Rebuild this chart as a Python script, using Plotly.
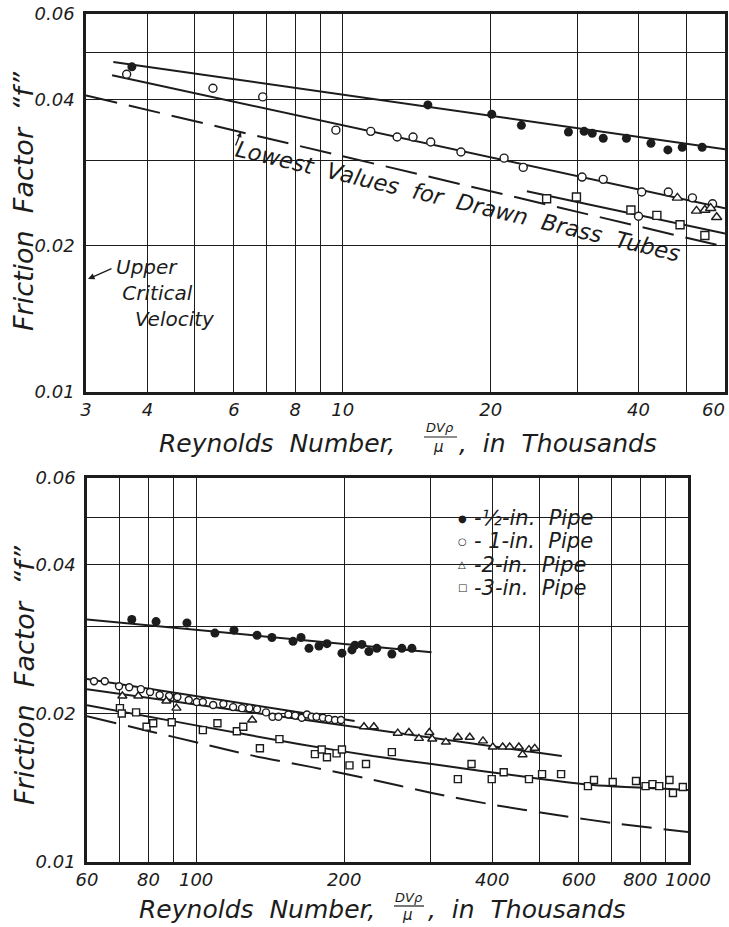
import numpy as np
import plotly.graph_objects as go

# ---------------- DATA ----------------
# Top chart (Reynolds number 3 - 60 thousand)
top_filled_x = [3.72, 14.9, 20.1, 23.1, 28.8, 31.0, 32.2, 33.9, 37.8, 42.4, 45.9, 49.1, 53.9]
top_filled_y = [0.0467, 0.0390, 0.0373, 0.0354, 0.0343, 0.0344, 0.0341, 0.0333, 0.0333, 0.0325, 0.0315, 0.0319, 0.0319]
top_open_x = [3.63, 5.44, 6.87, 9.68, 11.4, 12.9, 13.9, 15.1, 17.4, 21.3, 23.3, 30.7, 33.9, 40.0, 40.6, 46.0, 51.5, 56.6]
top_open_y = [0.0451, 0.0422, 0.0405, 0.0346, 0.0344, 0.0335, 0.0335, 0.0327, 0.0312, 0.0303, 0.0290, 0.0277, 0.0274, 0.0230, 0.0258, 0.0258, 0.0251, 0.0244]
top_tri_x = [48.0, 52.5, 54.6, 56.1, 57.7]
top_tri_y = [0.0251, 0.0236, 0.0237, 0.0239, 0.0229]
top_sq_x = [26.0, 29.9, 38.6, 43.6, 48.6, 54.6]
top_sq_y = [0.0250, 0.0252, 0.0237, 0.0231, 0.0221, 0.0210]

top_line_filled_x = [3.41, 60]
top_line_filled_y = [0.0478, 0.0316]
top_line_open_x = [3.39, 60]
top_line_open_y = [0.0449, 0.0239]
top_line_short_x = [23.7, 60]
top_line_short_y = [0.0259, 0.0212]
top_dashed_x = [3, 60]
top_dashed_y = [0.0408, 0.0199]

# Bottom chart (Reynolds number 60 - 1000 thousand)
bot_filled_x = [74.0, 82.9, 95.8, 109.2, 119.4, 133, 142.6, 157.4, 163.4, 169.6, 177.7, 184.5, 197.9, 207.4, 210.3, 217.3, 224.5, 233, 250, 262, 274.6]
bot_filled_y = [0.0310, 0.0307, 0.0305, 0.0291, 0.0295, 0.0288, 0.0285, 0.0280, 0.0285, 0.0271, 0.0274, 0.0277, 0.0265, 0.0269, 0.0275, 0.0276, 0.0267, 0.0271, 0.0264, 0.0271, 0.0271]
bot_open_x = [62.0, 65.2, 69.7, 73.1, 77.2, 80.6, 84.3, 88.1, 91.6, 96.6, 100.3, 103.2, 108.3, 113.6, 118.9, 124, 128.3, 133.0, 138.7, 143, 147, 154, 159, 164, 168, 171.8, 175.7, 181, 186, 191.6, 197]
bot_open_y = [0.02325, 0.02325, 0.0227, 0.0226, 0.0224, 0.0221, 0.0218, 0.0217, 0.0216, 0.0213, 0.0211, 0.0211, 0.0208, 0.0209, 0.0206, 0.0205, 0.0205, 0.0204, 0.0201, 0.0197, 0.0197, 0.0199, 0.0198, 0.0196, 0.0199, 0.0197, 0.0197, 0.0196, 0.0195, 0.0194, 0.0194]
bot_tri_x = [70.8, 76.3, 87.0, 91.2, 130.0, 219.4, 229.8, 257, 270.8, 283.8, 298, 302, 322, 340.5, 360, 383, 401, 420, 434, 453, 461, 475, 488]
bot_tri_y = [0.0217, 0.0217, 0.0212, 0.0205, 0.0194, 0.0188, 0.0188, 0.01824, 0.0183, 0.0178, 0.0183, 0.01775, 0.0175, 0.0179, 0.0179, 0.0176, 0.0171, 0.0171, 0.0171, 0.0171, 0.0165, 0.0169, 0.0170]
bot_sq_x = [70.0, 70.6, 75.5, 79.3, 81.8, 89.2, 103.2, 110.5, 121.0, 124.7, 134.8, 147.7, 174.4, 180.0, 184.5, 193.0, 197.9, 205.0, 221.5, 250, 340.5, 363, 399, 422, 475, 505, 552, 626, 644, 703, 784, 820, 847, 874, 917, 932, 976, 1005]
bot_sq_y = [0.0205, 0.0200, 0.0201, 0.0188, 0.0191, 0.0192, 0.0185, 0.0191, 0.0184, 0.0188, 0.0170, 0.01774, 0.01654, 0.0169, 0.0163, 0.0166, 0.0169, 0.0157, 0.0158, 0.0167, 0.01472, 0.0158, 0.01472, 0.0152, 0.01472, 0.01507, 0.01507, 0.01425, 0.01466, 0.01452, 0.01459, 0.01425, 0.01438, 0.01425, 0.01466, 0.01380, 0.01419, 0.01419]

bot_line_filled_x = [60, 301]
bot_line_filled_y = [0.0310, 0.0266]
bot_line_open_x = [60, 210]
bot_line_open_y = [0.0235, 0.0193]
bot_line_tri_x = [60, 554]
bot_line_tri_y = [0.0224, 0.0164]
bot_line_sq_x = [60, 101.8, 162.6, 228.8, 301.5, 470.6, 641, 1000]
bot_line_sq_y = [0.02078, 0.01885, 0.01733, 0.01639, 0.01579, 0.01486, 0.01432, 0.0140]
bot_dashed_x = [60, 78.7, 101.8, 128.7, 172, 225.6, 301.5, 395.5, 541, 727, 1000]
bot_dashed_y = [0.01974, 0.0185, 0.01741, 0.01647, 0.01557, 0.01472, 0.0138, 0.0131, 0.01245, 0.01194, 0.0115]

legend_names = ["-\u00bd-in.  Pipe", "- 1-in.  Pipe", "-2-in.  Pipe", "-3-in.  Pipe"]
legend_symbols = ["\u25cf", "\u25cb", "\u25b3", "\u25a1"]

# Tick values / labels (the top axis' last label "60" sits at the window edge; drawn inside it below)
top_xtickvals = [3, 4, 5, 6, 7, 8, 9, 10, 20, 30, 40, 50, 60]
top_xticktext = ["3", "4", "", "6", "", "8", "", "10", "20", "", "40", "", ""]
top_last_label = "60"
bot_xtickvals = [60, 70, 80, 90, 100, 200, 300, 400, 500, 600, 700, 800, 900, 1000]
bot_xticktext = ["60", "", "80", "", "100", "200", "", "400", "", "600", "", "800", "", "1000"]
ytickvals = [0.01, 0.02, 0.03, 0.04, 0.05, 0.06]
yticktext = ["0.01", "0.02", "", "0.04", "", "0.06"]

# ---------------- FIGURE ----------------
W, H = 729, 927
FONT = "DejaVu Sans"
INK = "#1c1c1c"


def px(x):
    return x / W


def py(y):
    return 1 - y / H


fig = go.Figure()


def line(x, y, xa, ya, dash="solid", shape="linear"):
    fig.add_trace(go.Scatter(x=x, y=y, mode="lines", xaxis=xa, yaxis=ya, showlegend=False,
                             hoverinfo="skip",
                             line=dict(color=INK, width=2, dash=dash, shape=shape, smoothing=0.6)))


def marks(x, y, symbol, xa, ya, name, filled=False, size=8, clip=True):
    fig.add_trace(go.Scatter(
        x=x, y=y, mode="markers", xaxis=xa, yaxis=ya, name=name, showlegend=False,
        cliponaxis=clip,
        marker=dict(symbol=symbol, size=size, color=INK if filled else "white",
                    line=dict(color=INK, width=0 if filled else 1.4))))


# top chart lines
line(top_line_filled_x, top_line_filled_y, "x", "y")
line(top_line_open_x, top_line_open_y, "x", "y")
line(top_line_short_x, top_line_short_y, "x", "y")
line(top_dashed_x, top_dashed_y, "x", "y", dash="32px,12px")
# bottom chart lines
line(bot_line_filled_x, bot_line_filled_y, "x2", "y2")
line(bot_line_open_x, bot_line_open_y, "x2", "y2")
line(bot_line_tri_x, bot_line_tri_y, "x2", "y2")
line(bot_line_sq_x, bot_line_sq_y, "x2", "y2", shape="spline")
line(bot_dashed_x, bot_dashed_y, "x2", "y2", dash="30px,12px", shape="spline")

# top markers
marks(top_filled_x, top_filled_y, "circle", "x", "y", legend_names[0], filled=True, size=9)
marks(top_open_x, top_open_y, "circle", "x", "y", legend_names[1])
marks(top_tri_x, top_tri_y, "triangle-up", "x", "y", legend_names[2], size=9)
marks(top_sq_x, top_sq_y, "square", "x", "y", legend_names[3], size=8)
# bottom markers
marks(bot_filled_x, bot_filled_y, "circle", "x2", "y2", legend_names[0], filled=True, size=9)
marks(bot_open_x, bot_open_y, "circle", "x2", "y2", legend_names[1], size=7)
marks(bot_tri_x, bot_tri_y, "triangle-up", "x2", "y2", legend_names[2], size=8)
marks(bot_sq_x, bot_sq_y, "square", "x2", "y2", legend_names[3], size=7, clip=False)

tickfont = dict(family=FONT, size=18, color=INK, style="italic")
axis_common = dict(type="log", showline=True, mirror=True, linecolor=INK, linewidth=2.5,
                   showgrid=True, gridcolor=INK, gridwidth=1.2, zeroline=False, ticks="",
                   tickfont=tickfont, tickmode="array", fixedrange=True, automargin=False,
                   ticklabeloverflow="allow")

fig.update_layout(
    width=W, height=H, margin=dict(l=0, r=0, t=0, b=0, autoexpand=False),
    paper_bgcolor="white", plot_bgcolor="white", showlegend=False,
    xaxis=dict(axis_common, domain=[px(86), px(725)], range=[np.log10(3), np.log10(60)],
               tickvals=top_xtickvals, ticktext=top_xticktext, anchor="y"),
    yaxis=dict(axis_common, domain=[py(392), py(14)], range=[-2, np.log10(0.06)],
               tickvals=ytickvals, ticktext=yticktext, anchor="x", ticklabelstandoff=5),
    xaxis2=dict(axis_common, domain=[px(87), px(688)], range=[np.log10(60), 3],
                tickvals=bot_xtickvals, ticktext=bot_xticktext, anchor="y2"),
    yaxis2=dict(axis_common, domain=[py(862), py(478)], range=[-2, np.log10(0.06)],
                tickvals=ytickvals, ticktext=yticktext, anchor="x2", ticklabelstandoff=5),
    hovermode=False,
)

tfont = dict(family=FONT, size=25, color=INK, style="italic")
sfont = dict(family=FONT, size=13, color=INK, style="italic")
ann = []


def add_text(text, x, y, xanchor="center", font=tfont, **kw):
    ann.append(dict(text=text, x=px(x), y=py(y), xref="paper", yref="paper", xanchor=xanchor,
                    yanchor="middle", showarrow=False, font=font, **kw))


# last top x tick label, kept inside the window
add_text(top_last_label, 727, 409, xanchor="right", font=tickfont)
# y-axis titles
for yc in (201, 675):
    add_text("Friction  Factor  \u201cf\u201d", 24, yc, font=dict(tfont, size=27), textangle=-90)
# x-axis titles with stacked fraction
for (lx, rx, fx, yc, ny, dy) in ((398, 457, 440, 443, 427, 447), (378, 426, 409, 909, 897, 915)):
    add_text("Reynolds  Number,", lx, yc, xanchor="right")
    add_text(",  in  Thousands", rx, yc, xanchor="left")
    add_text("DV\u03c1", fx, ny, font=sfont)
    add_text("\u03bc", fx - 2, dy, font=dict(sfont, size=15))
# Upper critical velocity
add_text("Upper<br>\u00a0Critical<br>\u00a0\u00a0\u00a0Velocity", 114, 293, xanchor="left",
         font=dict(tfont, size=20), align="left")
ann.append(dict(text="", x=px(88), y=py(279), xref="paper", yref="paper", showarrow=True,
                ax=25, ay=-11, arrowhead=2, arrowsize=1, arrowwidth=1.3, arrowcolor=INK))
# Lowest values label
add_text("Lowest  Values  for  Drawn  Brass  Tubes", 458, 201, font=dict(tfont, size=22.5),
         textangle=13.4)
ann.append(dict(text="", x=px(241), y=py(132), xref="paper", yref="paper", showarrow=True,
                ax=-6, ay=15, arrowhead=2, arrowsize=0.8, arrowwidth=1.3, arrowcolor=INK))
# legend (symbol + label)
for i, (sym, name) in enumerate(zip(legend_symbols, legend_names)):
    yc = 518 + i * 23.3
    add_text(sym, 462, yc, font=dict(family=FONT, size=10, color=INK))
    add_text(name, 472, yc, xanchor="left", font=dict(tfont, size=21))
fig.update_layout(annotations=ann)

# white masks between grid and traces (gaps in the grid behind lettering)
shapes = []


def mask_rect(x0, y0, x1, y1):
    shapes.append(dict(type="rect", xref="paper", yref="paper", x0=px(x0), x1=px(x1), y0=py(y1), y1=py(y0),
                       fillcolor="white", line=dict(width=0), layer="between"))


mask_rect(110, 262, 236, 330)   # Upper critical velocity
mask_rect(443, 505, 627, 610)   # legend block
# rotated mask behind "Lowest values..." text
cx, cy, ang, hl, hh = 458, 201, np.radians(13.4), 242, 14
ca, sa = np.cos(ang), np.sin(ang)
pts = []
for sl, sh in ((-1, -1), (1, -1), (1, 1), (-1, 1)):
    xx = cx + sl * hl * ca - sh * hh * sa
    yy = cy + sl * hl * sa + sh * hh * ca
    pts.append((px(xx), py(yy)))
path = "M " + " L ".join(f"{a:.5f},{b:.5f}" for a, b in pts) + " Z"
shapes.append(dict(type="path", path=path, xref="paper", yref="paper", fillcolor="white",
                   line=dict(width=0), layer="between"))
# fraction bars
for x0, x1, yb in ((424, 457, 437), (394, 424, 906)):
    shapes.append(dict(type="line", xref="paper", yref="paper", x0=px(x0), x1=px(x1), y0=py(yb), y1=py(yb),
                       line=dict(color=INK, width=1.2)))
fig.update_layout(shapes=shapes)

# remove the default page margin / scrollbars so the 729x927 figure fills the window exactly
fig.write_html("out.html", config={"displayModeBar": False}, post_script=(
    "document.documentElement.style.overflow='hidden';"
    "document.body.style.margin='0';document.body.style.overflow='hidden';"))
